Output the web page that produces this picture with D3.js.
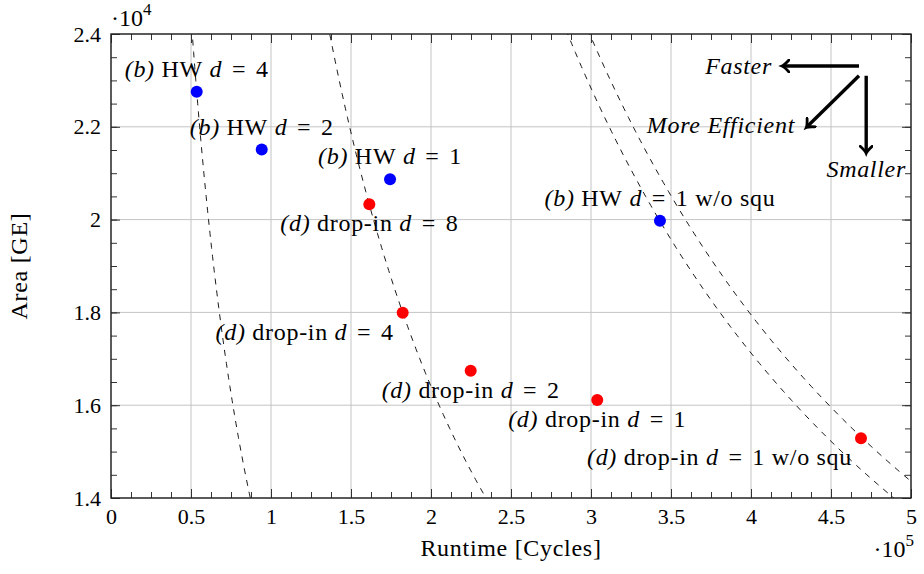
<!DOCTYPE html>
<html>
<head>
<meta charset="utf-8">
<script src="https://cdn.jsdelivr.net/npm/d3@7"></script>
<style>
  body { margin: 0; background: #fff; }
  svg { font-family: "Liberation Serif", "DejaVu Serif", serif; }
</style>
</head>
<body>
<svg width="924" height="574"></svg>
<script>
// data (runtime in cycles, area in GE)
let hwRuntime = [53560, 94200, 174400, 343100];
let hwArea = [22757, 21510, 20870, 19977];
let hwNames = ["(b) HW d = 4", "(b) HW d = 2", "(b) HW d = 1", "(b) HW d = 1 w/o squ"];

let dropRuntime = [161450, 182300, 224800, 303900, 468750];
let dropArea = [20330, 17994, 16744, 16112, 15287];
let dropNames = ["(d) drop-in d = 8", "(d) drop-in d = 4", "(d) drop-in d = 2", "(d) drop-in d = 1", "(d) drop-in d = 1 w/o squ"];
let dropPlace = ["below", "below left", "below", "below", "below left"];

// iso lines: runtime * area = const
let isoProducts = [1.219e9, 3.281e9, 6.85e9, 7.18e9];

let xTicks = [0, 0.5, 1, 1.5, 2, 2.5, 3, 3.5, 4, 4.5, 5];
let yTicks = [1.4, 1.6, 1.8, 2, 2.2, 2.4];

let svg = d3.select("svg"),
 width = +svg.attr("width"),
 height = +svg.attr("height");

let margin = {left: 111, top: 34, right: 13, bottom: 76};
let x = d3.scaleLinear().domain([0, 5e5]).range([margin.left, width - margin.right]);
let y = d3.scaleLinear().domain([1.4e4, 2.4e4]).range([height - margin.bottom, margin.top]);

let fs = 24;
let ls = "0.7px";

// grid
let grid = svg.append("g").attr("stroke", "#c4c4c4").attr("stroke-width", 1);
grid.selectAll("line.gx").data(xTicks).enter().append("line")
    .attr("x1", d => x(d * 1e5)).attr("x2", d => x(d * 1e5))
    .attr("y1", y.range()[0]).attr("y2", y.range()[1]);
grid.selectAll("line.gy").data(yTicks).enter().append("line")
    .attr("y1", d => y(d * 1e4)).attr("y2", d => y(d * 1e4))
    .attr("x1", x.range()[0]).attr("x2", x.range()[1]);

// clip for the iso curves
svg.append("clipPath").attr("id", "plot")
    .append("rect")
    .attr("x", x.range()[0]).attr("y", y.range()[1])
    .attr("width", x.range()[1] - x.range()[0])
    .attr("height", y.range()[0] - y.range()[1]);

let areaSteps = d3.range(1.3e4, 2.5e4 + 1, 100);
let isoLine = d3.line()
    .x(d => x(d[0]))
    .y(d => y(d[1]));

svg.append("g").attr("clip-path", "url(#plot)")
    .selectAll("path").data(isoProducts).enter().append("path")
    .attr("d", k => isoLine(areaSteps.map(a => [k / a, a])))
    .attr("fill", "none")
    .attr("stroke", "#000")
    .attr("stroke-width", 0.9)
    .attr("stroke-dasharray", "6,6");

// ticks inward on all four sides
let major = 9, minor = 6;
let xMinor = d3.range(0, 5.0001, 0.125).map(d => d * 1e5);
let yMinor = d3.range(1.4, 2.4001, 0.05).map(d => d * 1e4);

let bottomY = y.range()[0], topY = y.range()[1];
let leftX = x.range()[0], rightX = x.range()[1];

svg.append("g")
    .attr("transform", `translate(0,${bottomY})`)
    .call(d3.axisBottom(x).tickValues(xMinor).tickSize(-minor).tickFormat(""))
    .call(g => g.select(".domain").remove());
svg.append("g")
    .attr("transform", `translate(0,${topY})`)
    .call(d3.axisTop(x).tickValues(xMinor).tickSize(-minor).tickFormat(""))
    .call(g => g.select(".domain").remove());
svg.append("g")
    .attr("transform", `translate(${leftX},0)`)
    .call(d3.axisLeft(y).tickValues(yMinor).tickSize(-minor).tickFormat(""))
    .call(g => g.select(".domain").remove());
svg.append("g")
    .attr("transform", `translate(${rightX},0)`)
    .call(d3.axisRight(y).tickValues(yMinor).tickSize(-minor).tickFormat(""))
    .call(g => g.select(".domain").remove());

let xAxis = svg.append("g")
    .attr("transform", `translate(0,${bottomY})`)
    .call(d3.axisBottom(x).tickValues(xTicks.map(d => d * 1e5)).tickSize(-major).tickPadding(10)
      .tickFormat(d => d3.format("~g")(d / 1e5)));
xAxis.select(".domain").remove();
svg.append("g")
    .attr("transform", `translate(0,${topY})`)
    .call(d3.axisTop(x).tickValues(xTicks.map(d => d * 1e5)).tickSize(-major).tickFormat(""))
    .call(g => g.select(".domain").remove());
let yAxis = svg.append("g")
    .attr("transform", `translate(${leftX},0)`)
    .call(d3.axisLeft(y).tickValues(yTicks.map(d => d * 1e4)).tickSize(-major).tickPadding(10)
      .tickFormat(d => d3.format("~g")(d / 1e4)));
yAxis.select(".domain").remove();
svg.append("g")
    .attr("transform", `translate(${rightX},0)`)
    .call(d3.axisRight(y).tickValues(yTicks.map(d => d * 1e4)).tickSize(-major).tickFormat(""))
    .call(g => g.select(".domain").remove());

svg.selectAll(".tick line").attr("stroke", "#333").attr("stroke-width", 1);
svg.selectAll(".tick text")
    .attr("font-family", "Liberation Serif")
    .attr("font-size", 22)
    .attr("fill", "#000");
xAxis.selectAll(".tick text").attr("dy", "0.71em");

// frame
svg.append("rect")
    .attr("x", leftX).attr("y", topY)
    .attr("width", rightX - leftX).attr("height", bottomY - topY)
    .attr("fill", "none").attr("stroke", "#222").attr("stroke-width", 1.4);

// exponent markers
let e4 = svg.append("text").attr("x", 111).attr("y", 26).attr("font-size", 24);
e4.append("tspan").text("·10");
e4.append("tspan").attr("dy", -11).attr("font-size", 17).text("4");
let e5 = svg.append("text").attr("x", 914).attr("y", 557).attr("font-size", 24).attr("text-anchor", "end");
e5.append("tspan").text("·10");
e5.append("tspan").attr("dy", -11).attr("font-size", 17).text("5");

// axis titles
svg.append("text")
    .attr("x", (leftX + rightX) / 2).attr("y", 556)
    .attr("text-anchor", "middle").attr("font-size", fs).attr("letter-spacing", ls)
    .text("Runtime [Cycles]");
svg.append("text")
    .attr("transform", `translate(27,${(topY + bottomY) / 2}) rotate(-90)`)
    .attr("text-anchor", "middle").attr("font-size", fs).attr("letter-spacing", ls)
    .text("Area [GE]");

// points
svg.append("g").selectAll("circle").data(hwRuntime).enter().append("circle")
    .attr("cx", d => x(d)).attr("cy", (d, i) => y(hwArea[i])).attr("r", 6)
    .attr("fill", "#0000ff");
svg.append("g").selectAll("circle").data(dropRuntime).enter().append("circle")
    .attr("cx", d => x(d)).attr("cy", (d, i) => y(dropArea[i])).attr("r", 6)
    .attr("fill", "#ff0000");

// labels: "(b)" and the variable d in italics, a bit of math room around "="
function richLabel(sel, label) {
  let words = label.split(" ");
  words.forEach((w, i) => {
    let t = sel.append("tspan").text((i > 0 ? " " : "") + w);
    if (/^\(.\)$/.test(w) || w === "d") t.attr("font-style", "italic");
    if (w === "=" || (i > 0 && words[i - 1] === "=")) t.attr("dx", 3);
  });
}
function placeLabel(px, py, label, place) {
  let t = svg.append("text").attr("font-size", fs).attr("letter-spacing", ls);
  if (place === "above") {
    t.attr("x", px).attr("y", py - 15).attr("text-anchor", "middle");
  } else if (place === "below") {
    t.attr("x", px).attr("y", py + 27).attr("text-anchor", "middle");
  } else {
    t.attr("x", px - 9).attr("y", py + 27).attr("text-anchor", "end");
  }
  richLabel(t, label);
}
hwRuntime.forEach((d, i) => placeLabel(x(d), y(hwArea[i]), hwNames[i], "above"));
dropRuntime.forEach((d, i) => placeLabel(x(d), y(dropArea[i]), dropNames[i], dropPlace[i]));

// direction arrows (top right)
svg.append("defs").append("marker")
    .attr("id", "tip").attr("viewBox", "-7 -7 14 14")
    .attr("refX", 0).attr("refY", 0)
    .attr("markerWidth", 14).attr("markerHeight", 14)
    .attr("markerUnits", "userSpaceOnUse")
    .attr("orient", "auto")
    .append("path")
    .attr("d", "M-6,-6 Q-1.5,-1 1,0 Q-1.5,1 -6,6")
    .attr("fill", "none").attr("stroke", "#000").attr("stroke-width", 2.8)
    .attr("stroke-linecap", "round");

let arrows = [
  {x1: 4.675e5, y1: 2.331e4, x2: 4.2e5, y2: 2.331e4},
  {x1: 4.675e5, y1: 2.31e4, x2: 4.35e5, y2: 2.2e4},
  {x1: 4.72e5, y1: 2.31e4, x2: 4.72e5, y2: 2.145e4}
];
svg.append("g").selectAll("line").data(arrows).enter().append("line")
    .attr("x1", d => x(d.x1)).attr("y1", d => y(d.y1))
    .attr("x2", d => x(d.x2)).attr("y2", d => y(d.y2))
    .attr("stroke", "#000").attr("stroke-width", 3.4)
    .attr("marker-end", "url(#tip)");

let notes = [
  {text: "Faster", x: 772, y: 74, anchor: "end"},
  {text: "More Efficient", x: 795, y: 133, anchor: "end"},
  {text: "Smaller", x: 906, y: 177, anchor: "end"}
];
svg.append("g").selectAll("text").data(notes).enter().append("text")
    .attr("x", d => d.x).attr("y", d => d.y)
    .attr("text-anchor", d => d.anchor)
    .attr("font-size", fs).attr("font-style", "italic").attr("letter-spacing", ls)
    .text(d => d.text);
</script>
</body>
</html>
